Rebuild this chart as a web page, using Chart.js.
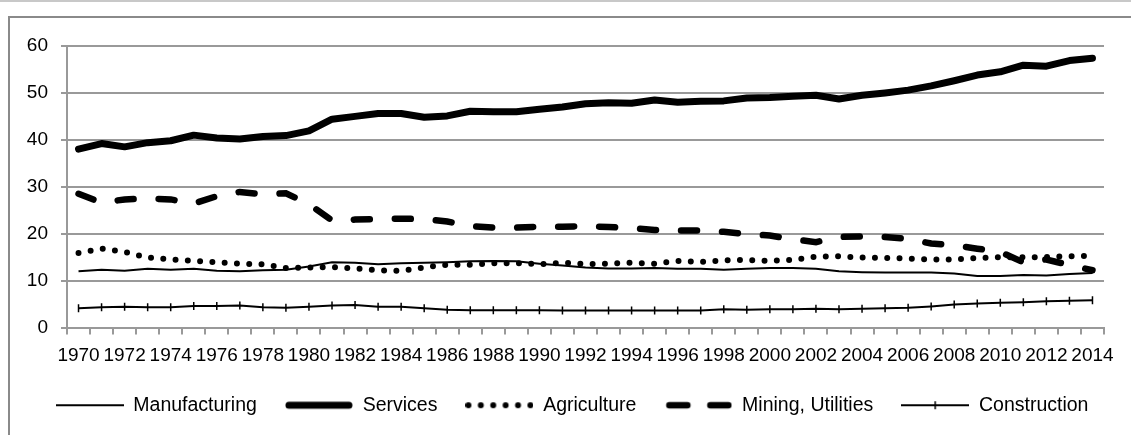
<!DOCTYPE html>
<html lang="en">
<head>
    <meta charset="UTF-8">
    <title>Employment share by sector</title>
    <script src="https://cdn.jsdelivr.net/npm/chart.js"></script>
    <style>
        body {
            margin: 0;
            width: 1131px;
            height: 435px;
            overflow: hidden;
            background: #fff;
            position: relative;
        }
        #topLine {
            position: absolute;
            left: 0; top: 0;
            width: 1131px;
            border-top: 2px solid #c8c8c8;
        }
        #frame {
            position: absolute;
            left: 8px; top: 16px;
            width: 2000px; height: 2000px;
            border-left: 2px solid #8a8a8a;
            border-top: 2px solid #8a8a8a;
        }
        canvas {
            position: absolute;
            left: 0; top: 0;
        }
    </style>
</head>
<body>
    <div id="topLine"></div>
    <div id="frame"></div>
    <canvas id="sectorChart" width="1131" height="435"></canvas>

    <script>
        const years = [];
        for (let y = 1970; y <= 2014; y++) years.push(String(y));

        const manufacturing = [12.0, 12.3, 12.1, 12.5, 12.3, 12.5, 12.1, 12.0, 12.2, 12.3,
            13.0, 13.9, 13.8, 13.5, 13.7, 13.8, 13.9, 14.1, 14.2, 14.1,
            13.6, 13.2, 12.8, 12.6, 12.6, 12.7, 12.5, 12.5, 12.3, 12.5,
            12.7, 12.7, 12.5, 12.0, 11.8, 11.7, 11.7, 11.7, 11.5, 11.0,
            11.0, 11.2, 11.1, 11.4, 11.6];
        const services = [38.0, 39.2, 38.5, 39.4, 39.8, 41.0, 40.4, 40.2, 40.7, 40.9,
            41.9, 44.4, 45.0, 45.6, 45.6, 44.8, 45.1, 46.1, 46.0, 46.0,
            46.5, 47.0, 47.7, 47.9, 47.8, 48.5, 48.0, 48.2, 48.3, 48.9,
            49.0, 49.3, 49.5, 48.7, 49.5, 50.0, 50.6, 51.5, 52.6, 53.8,
            54.5, 55.9, 55.7, 56.9, 57.4];
        const agriculture = [15.9, 16.8, 16.1, 14.9, 14.5, 14.2, 13.9, 13.6, 13.5, 12.7,
            12.8, 12.9, 12.6, 12.2, 12.1, 12.8, 13.4, 13.4, 13.7, 13.7,
            13.5, 13.8, 13.5, 13.6, 13.8, 13.6, 14.2, 14.0, 14.3, 14.4,
            14.2, 14.4, 15.1, 15.2, 14.9, 14.8, 14.7, 14.5, 14.5, 14.8,
            15.0, 15.0, 15.0, 15.2, 15.3];
        const mining = [28.5, 26.6, 27.3, 27.5, 27.3, 26.4, 28.0, 28.9, 28.4, 28.6,
            26.3, 22.8, 23.0, 23.1, 23.2, 23.1, 22.6, 21.6, 21.3, 21.3,
            21.5, 21.5, 21.6, 21.4, 21.2, 20.8, 20.7, 20.7, 20.4, 19.9,
            19.6, 18.8, 18.2, 19.3, 19.4, 19.3, 18.9, 17.9, 17.5, 16.8,
            16.1, 13.9, 14.5, 13.3, 12.2];
        const construction = [4.1, 4.3, 4.4, 4.3, 4.3, 4.6, 4.6, 4.7, 4.3, 4.2,
            4.4, 4.7, 4.8, 4.4, 4.4, 4.1, 3.8, 3.7, 3.7, 3.7,
            3.7, 3.6, 3.6, 3.6, 3.6, 3.6, 3.6, 3.6, 3.9, 3.8,
            3.9, 3.9, 4.0, 3.9, 4.0, 4.1, 4.2, 4.5, 4.9, 5.1,
            5.3, 5.4, 5.6, 5.7, 5.8];

        const yTicks = [0, 10, 20, 30, 40, 50, 60];

        const gridGray = '#999999';
        const fontFamily = "'Liberation Sans', Arial, sans-serif";

        // little legend samples, drawn once and handed to the legend as point styles
        function sample(draw) {
            const c = document.createElement('canvas');
            c.width = 68;
            c.height = 20;
            const g = c.getContext('2d');
            g.strokeStyle = '#000';
            g.fillStyle = '#000';
            draw(g);
            return c;
        }
        const legendSamples = [
            sample(g => { g.lineWidth = 2; g.beginPath(); g.moveTo(0, 10); g.lineTo(68, 10); g.stroke(); }),
            sample(g => { g.lineWidth = 7; g.lineCap = 'round'; g.beginPath(); g.moveTo(4, 10); g.lineTo(64, 10); g.stroke(); }),
            sample(g => { for (let i = 0; i < 6; i++) { g.beginPath(); g.arc(3 + i * 12.4, 10, 3, 0, Math.PI * 2); g.fill(); } }),
            sample(g => { g.lineWidth = 6.5; g.lineCap = 'round'; g.beginPath(); g.moveTo(5, 10); g.lineTo(23, 10); g.moveTo(46, 10); g.lineTo(64, 10); g.stroke(); }),
            sample(g => { g.lineWidth = 2; g.beginPath(); g.moveTo(0, 10); g.lineTo(68, 10); g.stroke(); g.lineWidth = 1.5; g.beginPath(); g.moveTo(34, 6); g.lineTo(34, 14); g.stroke(); })
        ];

        // the legend sits a bit right of the plot centre in the original;
        // widening the box to the right also keeps it on one row
        const nudgeLegend = {
            id: 'nudgeLegend',
            afterLayout: chart => {
                chart.legend.right += 40;
            }
        };

        const ctx = document.getElementById('sectorChart').getContext('2d');
        new Chart(ctx, {
            type: 'line',
            data: {
                labels: years,
                datasets: [
                    {
                        label: 'Manufacturing',
                        data: manufacturing,
                        borderColor: '#000',
                        borderWidth: 2,
                        pointRadius: 0
                    },
                    {
                        label: 'Services',
                        data: services,
                        borderColor: '#000',
                        borderWidth: 7,
                        borderCapStyle: 'round',
                        borderJoinStyle: 'round',
                        pointRadius: 0
                    },
                    {
                        label: 'Agriculture',
                        data: agriculture,
                        borderColor: '#000',
                        borderWidth: 6,
                        borderDash: [0, 12.3],
                        borderCapStyle: 'round',
                        pointRadius: 0
                    },
                    {
                        label: 'Mining, Utilities',
                        data: mining,
                        borderColor: '#000',
                        borderWidth: 6.5,
                        borderDash: [16, 25],
                        borderCapStyle: 'round',
                        pointRadius: 0
                    },
                    {
                        label: 'Construction',
                        data: construction,
                        borderColor: '#000',
                        borderWidth: 2,
                        pointStyle: 'line',
                        rotation: 90,
                        pointRadius: 4,
                        pointBorderWidth: 1.5,
                        pointBorderColor: '#000'
                    }
                ]
            },
            options: {
                responsive: false,
                animation: false,
                layout: {
                    padding: { left: 0, right: 27, top: 46, bottom: 10 }
                },
                plugins: {
                    tooltip: { enabled: false },
                    legend: {
                        display: true,
                        position: 'bottom',
                        labels: {
                            color: '#000',
                            font: { family: fontFamily, size: 19.5 },
                            usePointStyle: true,
                            pointStyleWidth: 68,
                            padding: 28,
                            generateLabels: chart => {
                                const items = Chart.defaults.plugins.legend.labels.generateLabels(chart);
                                items.forEach((it, i) => {
                                    it.pointStyle = legendSamples[i];
                                    it.rotation = 0;
                                });
                                return items;
                            }
                        }
                    }
                },
                scales: {
                    x: {
                        offset: true,
                        grid: {
                            offset: true,
                            drawOnChartArea: false,
                            drawTicks: true,
                            tickLength: 7,
                            color: gridGray,
                            lineWidth: 2
                        },
                        border: { display: true, color: gridGray, width: 2 },
                        ticks: {
                            color: '#000',
                            font: { family: fontFamily, size: 19 },
                            autoSkip: false,
                            maxRotation: 0,
                            padding: 10,
                            callback: (val, i) => (i % 2 === 0 ? years[i] : '')
                        },
                        afterFit: scale => { scale.height = 40; }
                    },
                    y: {
                        min: 0,
                        max: 60,
                        afterBuildTicks: scale => { scale.ticks = yTicks.map(v => ({ value: v })); },
                        grid: {
                            color: gridGray,
                            lineWidth: 2,
                            drawTicks: true,
                            tickLength: 6
                        },
                        border: { display: true, color: gridGray, width: 2 },
                        ticks: {
                            color: '#000',
                            font: { family: fontFamily, size: 19 },
                            padding: 13
                        },
                        afterFit: scale => { scale.width = 67; }
                    }
                }
            },
            plugins: [nudgeLegend]
        });
    </script>
</body>
</html>
